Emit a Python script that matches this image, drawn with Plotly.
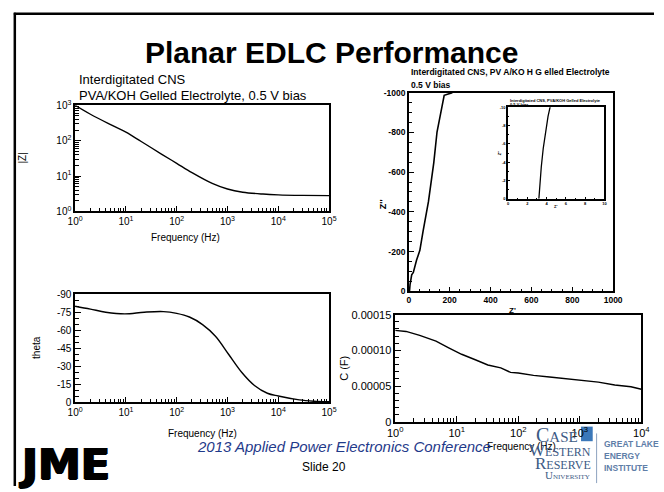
import plotly.graph_objects as go

W, H = 664, 492

# ---------------- data ----------------
freq_z = [1, 2, 5, 10, 20, 50, 100, 200, 500, 1000, 2000, 5000, 10000, 30000, 100000]
mag_z = [1000, 560, 285, 175, 95, 42, 23, 12.5, 6.2, 4.3, 3.5, 3.1, 2.95, 2.85, 2.8]

freq_t = [1, 2, 4, 9.5, 23, 55, 100, 178, 323, 580, 1050, 1900, 3400, 6100, 10000, 26000, 50000, 100000]
theta = [-80, -77.6, -75, -73.6, -75, -75.5, -74, -71, -64.7, -55, -40, -25, -14, -7.5, -5.2, -2.0, -0.9, -0.4]

freq_c = [1, 1.5, 2.5, 4.6, 7.4, 12, 20, 32, 52, 75, 100, 177, 323, 590, 1090, 2000, 3700, 6770, 10000]
cap_c = [1.28e-4, 1.265e-4, 1.21e-4, 1.128e-4, 1.036e-4, 9.45e-5, 8.68e-5, 7.95e-5, 7.54e-5,
         6.91e-5, 6.82e-5, 6.5e-5, 6.27e-5, 6.04e-5, 5.73e-5, 5.55e-5, 5.14e-5, 4.9e-5, 4.55e-5]

z_re = [3.2, 6, 14, 22, 38, 54, 70, 96, 122, 138, 173, 213]
z_im = [0, -34, -83, -95, -157, -206, -304, -451, -647, -802, -987, -1000]

inset_re = [3.2, 3.3, 3.45, 3.65, 3.9, 4.15, 4.4]
inset_im = [0, -1.5, -3.5, -5.5, -7.5, -9, -10.2]

log_tickvals_5 = [1, 10, 100, 1000, 10000, 100000]
log_ticktext_5 = ["10<sup>0</sup>", "10<sup>1</sup>", "10<sup>2</sup>", "10<sup>3</sup>", "10<sup>4</sup>", "10<sup>5</sup>"]
z_tickvals = [1, 10, 100, 1000]
z_ticktext = ["10<sup>0</sup>", "10<sup>1</sup>", "10<sup>2</sup>", "10<sup>3</sup>"]
theta_tickvals = [0, -15, -30, -45, -60, -75, -90]
theta_ticktext = ["0", "-15", "-30", "-45", "-60", "-75", "-90"]
c_tickvals = [0, 0.00005, 0.00010, 0.00015]
c_ticktext = ["0", "0.00005", "0.00010", "0.00015"]
cf_tickvals = [1, 10, 100, 1000, 10000]
cf_ticktext = ["10<sup>0</sup>", "10<sup>1</sup>", "10<sup>2</sup>", "10<sup>3</sup>", "10<sup>4</sup>"]
ny_xtickvals = [0, 200, 400, 600, 800, 1000]
ny_xticktext = ["0", "200", "400", "600", "800", "1000"]
ny_ytickvals = [0, -200, -400, -600, -800, -1000]
ny_yticktext = ["0", "-200", "-400", "-600", "-800", "-1000"]
in_tickvals = [0, 2, 4, 6, 8, 10]
in_ticktext = ["0", "2", "4", "6", "8", "10"]
in_ytickvals = [0, -2, -4, -6, -8, -10]
in_yticktext = ["0", "-2", "-4", "-6", "-8", "-10"]

FONT = "Liberation Sans, Arial, sans-serif"


def px_x(p):
    return p / W


def px_y(p):
    return 1 - p / H


def dom_x(a, b):
    return [px_x(a), px_x(b)]


def dom_y(top, bottom):
    return [px_y(bottom), px_y(top)]


fig = go.Figure()
line = dict(color="black", width=1.4)
fig.add_trace(go.Scatter(x=freq_z, y=mag_z, mode="lines", line=line, xaxis="x", yaxis="y",
                         line_shape="spline"))
fig.add_trace(go.Scatter(x=freq_t, y=theta, mode="lines", line=line, xaxis="x2", yaxis="y2",
                         line_shape="spline"))
fig.add_trace(go.Scatter(x=z_re, y=z_im, mode="lines", line=dict(color="black", width=1.6),
                         xaxis="x3", yaxis="y3"))
fig.add_trace(go.Scatter(x=inset_re, y=inset_im, mode="lines", line=dict(color="black", width=1.3),
                         xaxis="x4", yaxis="y4"))
fig.add_trace(go.Scatter(x=freq_c, y=cap_c, mode="lines", line=line, xaxis="x5", yaxis="y5"))

base = dict(showline=True, mirror=True, linecolor="black", linewidth=1.5, showgrid=False,
            zeroline=False, ticks="inside", tickcolor="black", fixedrange=True)

tf = dict(family=FONT, size=10, color="black")

layout = dict(
    width=W, height=H, margin=dict(l=0, r=0, t=0, b=0), showlegend=False,
    paper_bgcolor="white", plot_bgcolor="white",
    font=dict(family=FONT, color="black"),
    # |Z|
    xaxis=dict(base, type="log", range=[0, 5], domain=dom_x(69, 330), anchor="y",
               tickvals=log_tickvals_5, ticktext=log_ticktext_5, ticklen=6, tickfont=tf,
               minor=dict(dtick="D1", ticks="inside", ticklen=4, tickcolor="black")),
    yaxis=dict(base, type="log", range=[0, 3], domain=dom_y(101, 210), anchor="x",
               tickvals=z_tickvals, ticktext=z_ticktext, ticklen=6, tickfont=tf,
               minor=dict(dtick="D1", ticks="inside", ticklen=4, tickcolor="black")),
    # theta
    xaxis2=dict(base, type="log", range=[0, 5], domain=dom_x(69, 330), anchor="y2",
                tickvals=log_tickvals_5, ticktext=log_ticktext_5, ticklen=6, tickfont=tf,
                minor=dict(dtick="D1", ticks="inside", ticklen=4, tickcolor="black")),
    yaxis2=dict(base, range=[0, -90], domain=dom_y(295, 406), anchor="x2",
                tickvals=theta_tickvals, ticktext=theta_ticktext, ticklen=6, tickfont=tf,
                minor=dict(dtick=5, ticks="inside", ticklen=4, tickcolor="black")),
    # Nyquist
    xaxis3=dict(base, range=[0, 1000], domain=dom_x(412, 622), anchor="y3",
                tickvals=ny_xtickvals, ticktext=ny_xticktext, ticklen=5,
                tickfont=dict(family=FONT, size=8.5, color="black", weight="bold"),
                minor=dict(dtick=50, ticks="inside", ticklen=3, tickcolor="black")),
    yaxis3=dict(base, range=[0, -1000], domain=dom_y(88, 292), anchor="x3",
                tickvals=ny_ytickvals, ticktext=ny_yticktext, ticklen=5,
                tickfont=dict(family=FONT, size=8.5, color="black", weight="bold"),
                minor=dict(dtick=50, ticks="inside", ticklen=3, tickcolor="black")),
    # inset
    xaxis4=dict(base, linewidth=1.5, range=[0, 10], domain=dom_x(514, 613), anchor="y4",
                tickvals=in_tickvals, ticktext=in_ticktext, ticklen=2,
                tickfont=dict(family=FONT, size=4, color="black", weight="bold"),
                minor=dict(dtick=1, ticks="inside", ticklen=1, tickcolor="black")),
    yaxis4=dict(base, linewidth=1.5, range=[0, -10], domain=dom_y(103, 197), anchor="x4",
                tickvals=in_ytickvals, ticktext=in_yticktext, ticklen=2,
                tickfont=dict(family=FONT, size=4, color="black", weight="bold"),
                minor=dict(dtick=1, ticks="inside", ticklen=1, tickcolor="black")),
    # C
    xaxis5=dict(base, type="log", range=[0, 4], domain=dom_x(398, 651), anchor="y5",
                tickvals=cf_tickvals, ticktext=cf_ticktext, ticklen=6,
                tickfont=dict(family=FONT, size=11, color="black"),
                minor=dict(dtick="D1", ticks="inside", ticklen=4, tickcolor="black")),
    yaxis5=dict(base, range=[0, 0.00015], domain=dom_y(316, 426), anchor="x5",
                tickvals=c_tickvals, ticktext=c_ticktext, ticklen=6,
                tickfont=dict(family=FONT, size=11, color="black"),
                minor=dict(dtick=0.00001, ticks="inside", ticklen=4, tickcolor="black")),
)
fig.update_layout(**layout)

anns = []


def ann(text, x, y, size, xanchor="center", yanchor="middle", color="black", bold=False,
        italic=False, family=FONT, angle=0, shadow=None):
    f = dict(family=family, size=size, color=color)
    if bold:
        f["weight"] = "bold"
    if italic:
        f["style"] = "italic"
    if shadow:
        f["shadow"] = shadow
    anns.append(dict(text=text, x=px_x(x), y=px_y(y), xref="paper", yref="paper",
                     xanchor=xanchor, yanchor=yanchor, showarrow=False, font=f,
                     textangle=angle))


ann("Planar EDLC Performance", 333, 47, 30, bold=True)
ann("Interdigitated CNS", 71, 74, 13, xanchor="left")
ann("PVA/KOH Gelled Electrolyte, 0.5 V bias", 71, 91, 13, xanchor="left")
ann("|Z|", 15, 155, 10, angle=-90)
ann("Frequency (Hz)", 182, 237, 10)
ann("theta", 30, 350, 10, angle=-90)
ann("Frequency (Hz)", 200, 438, 10)
ann("Interdigitated CNS, PV A/KO H G elled Electrolyte", 412, 67, 8.5, xanchor="left", bold=True)
ann("0.5 V bias", 412, 80, 8.5, xanchor="left", bold=True)
ann("Z''", 385, 203, 9, bold=True, angle=-90)
ann("Z'", 519, 312, 8, bold=True)
ann("Interdigitated CNS, PVA/KOH Gelled Electrolyte", 514, 96, 4, xanchor="left", bold=True)
ann("0.5 V bias", 514, 100.5, 4, xanchor="left", bold=True)
ann("Z''", 505, 150, 4, bold=True, angle=-90)
ann("Z'", 563, 205, 4, bold=True)
ann("C (F)", 346, 371, 11, angle=-90)
ann("Frequency (Hz)", 528, 451, 10)
ann("JME", 8, 469, 43, xanchor="left", bold=True, family="DejaVu Sans, sans-serif",
    shadow="1px 0 0 black, 2px 0 0 black, 1px 1px 0 black")
ann("2013 Applied Power Electronics Conference", 345, 451, 15, italic=True, color="#1f3a8a")
ann("Slide 20", 325, 472, 12)
# university logo text
SERIF = "Liberation Serif, Times New Roman, serif"
logo_c = "#3c5a84"
ann("<span style='font-size:20px'>C</span>ASE", 588, 440, 15, xanchor="right", color=logo_c, family=SERIF)
ann("<span style='font-size:17px'>W</span>ESTERN", 601, 456, 12, xanchor="right", color=logo_c, family=SERIF)
ann("<span style='font-size:17px'>R</span>ESERVE", 601, 469, 12, xanchor="right", color=logo_c, family=SERIF)
ann("<span style='font-size:11px'>U</span>NIVERSITY", 600, 481, 7, xanchor="right", color=logo_c, family=SERIF)
logo_c2 = "#5f7ea8"
ann("GREAT LAKE", 611, 449, 8.5, xanchor="left", color=logo_c2, bold=True)
ann("ENERGY", 611, 461, 8.5, xanchor="left", color=logo_c2, bold=True)
ann("INSTITUTE", 611, 473, 8.5, xanchor="left", color=logo_c2, bold=True)

shapes = [
    dict(type="line", xref="paper", yref="paper", x0=px_x(6), x1=1, y0=px_y(7), y1=px_y(7),
         line=dict(color="black", width=2.5)),
    dict(type="line", xref="paper", yref="paper", x0=px_x(7), x1=px_x(7), y0=px_y(6), y1=0,
         line=dict(color="black", width=2.5)),
    dict(type="rect", xref="paper", yref="paper", x0=px_x(589), x1=px_x(601), y0=px_y(446), y1=px_y(431),
         fillcolor="#3b78b9", line=dict(width=0), layer="below"),
    dict(type="line", xref="paper", yref="paper", x0=px_x(605), x1=px_x(605), y0=px_y(438), y1=px_y(489),
         line=dict(color="#8ea3bf", width=1)),
]
fig.update_layout(annotations=anns, shapes=shapes)

fig.write_html("out.html", config={"displayModeBar": False},
               post_script="document.body.style.margin='0px';document.body.style.overflow='hidden';")
